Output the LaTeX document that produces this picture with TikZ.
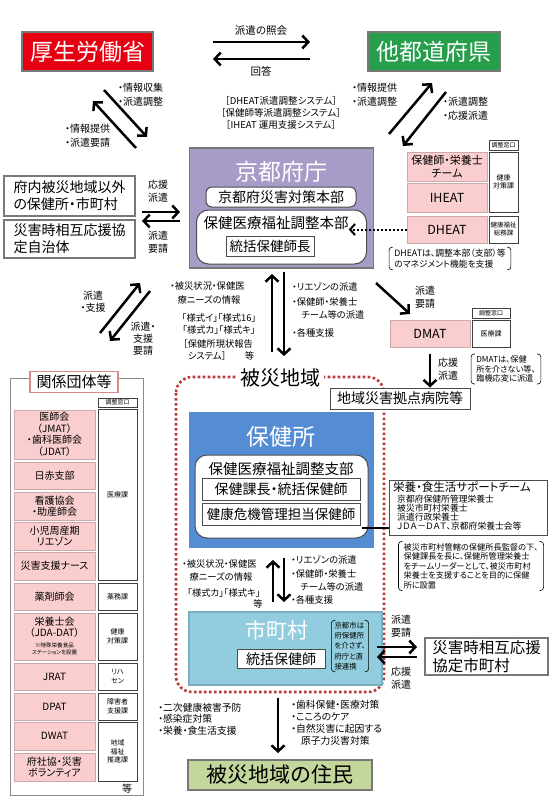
\documentclass[tikz,border=0pt]{standalone}
\usepackage{fontspec}
\setmainfont{Noto Sans CJK JP}[RawFeature=+palt]
\usetikzlibrary{arrows.meta}

\definecolor{mhlwred}{RGB}{230,0,18}
\definecolor{prefgreen}{RGB}{38,158,76}
\definecolor{kyotopurple}{RGB}{167,155,200}
\definecolor{pinkfill}{RGB}{250,206,206}
\definecolor{pinkline}{RGB}{205,170,170}
\definecolor{titlepink}{RGB}{215,140,140}
\definecolor{hcblue}{RGB}{84,141,212}
\definecolor{cityblue}{RGB}{145,205,222}
\definecolor{residentgreen}{RGB}{195,214,155}
\definecolor{dotred}{RGB}{185,60,60}
\definecolor{frame}{RGB}{120,120,120}

\newcommand{\fs}[2]{\fontsize{#1}{#2}\selectfont}
% brackets round a note
\newcommand{\parens}[1]{%
  \draw[line width=0.6pt, rounded corners=3pt] ([xshift=4pt]#1.north west) -- (#1.north west) -- (#1.south west) -- ([xshift=4pt]#1.south west);
  \draw[line width=0.6pt, rounded corners=3pt] ([xshift=-4pt]#1.north east) -- (#1.north east) -- (#1.south east) -- ([xshift=-4pt]#1.south east);}

\begin{document}
\begin{tikzpicture}[x=1pt, y=-1pt,
  sz/.style 2 args={minimum width=#1pt, minimum height=#2pt},
  bigbox/.style={draw=frame, line width=1.5pt, inner sep=0pt, text=white},
  wbox/.style={draw=black!70, line width=1pt, fill=white, inner sep=0pt, align=center},
  pinkbox/.style={draw=pinkline, line width=0.8pt, fill=pinkfill, inner sep=0pt, align=center, font=\fs{10}{11.5}},
  deskbox/.style={draw=black!75, line width=1pt, fill=white, inner sep=0pt, align=center, font=\fs{7}{8.5}},
  lbl/.style={inner sep=0pt, font=\fs{10}{14}},
  note/.style={inner xsep=5pt, inner ysep=1.5pt, align=left},
  arr/.style={line width=2.5pt, -{Straight Barb[length=6pt,width=13pt]}},
  dotline/.style={draw=dotred, line width=2.6pt, dash pattern=on 2.6pt off 2.4pt, rounded corners=16pt},
]
\useasboundingbox (0,0) rectangle (554,800);

% 上段
\node[bigbox, fill=mhlwred, sz={131}{39}, font=\fs{23}{26}] (mhlw) at (87.5,51.5) {厚生労働省};
\node[bigbox, fill=prefgreen, sz={132}{39}, font=\fs{23}{26}] (other) at (434,51.5) {他都道府県};
\coordinate (t1a) at (213,42); \coordinate (t1b) at (310,42);
\coordinate (t2a) at (310,59); \coordinate (t2b) at (213,59);
\draw[arr] (t1a) -- (t1b);
\draw[arr] (t2a) -- (t2b);
\node[lbl, font=\fs{10.5}{12}] (inq) at (261,31) {派遣の照会};
\node[lbl, font=\fs{10.5}{12}] (ans) at (261,71) {回答};

% 厚労省 <-> 府庁
\coordinate (d1a) at (104,90); \coordinate (d1b) at (147,137);
\coordinate (d2a) at (136,148); \coordinate (d2b) at (93,101);
\draw[arr] (d1a) -- (d1b);
\draw[arr] (d2a) -- (d2b);
\node[lbl, anchor=north west, align=left] (l1) at (118,83) {・情報収集\\・派遣調整};
\node[lbl, anchor=north west, align=left] (l2) at (65,124) {・情報提供\\・派遣要請};

% 他都道府県 <-> 府庁
\coordinate (d3a) at (389,134); \coordinate (d3b) at (432,83);
\coordinate (d4a) at (446,92); \coordinate (d4b) at (403,146);
\draw[arr] (d3a) -- (d3b);
\draw[arr] (d4a) -- (d4b);
\node[lbl, anchor=north west, align=left] (r1) at (352,83) {・情報提供\\・派遣調整};
\node[lbl, anchor=north west, align=left] (r2) at (443,97) {・派遣調整\\・応援派遣};

\node[lbl, font=\fs{9.5}{12}, align=center] (sys) at (281,113) {［DHEAT派遣調整システム］\\［保健師等派遣調整システム］\\［IHEAT 運用支援システム］};

% 京都府庁
\node[bigbox, fill=kyotopurple, sz={184}{120}] (kyoto) at (281.5,208) {};
\node[lbl, text=white, font=\fs{23}{26}] (kyototitle) at (281,172) {京都府庁};
\node[wbox, rounded corners=6pt, sz={150}{20}, font=\fs{14}{16}] (hq) at (281,197) {京都府災害対策本部};
\node[wbox, rounded corners=12pt, sz={170}{54}] (honbu) at (281.5,237) {};
\node[lbl, font=\fs{14.5}{16}] (honbutxt) at (276,223) {保健医療福祉調整本部};
\node[wbox, sz={88}{20}, font=\fs{13.5}{16}] (chief) at (270,246) {統括保健師長};

% 派遣チーム
\node[deskbox, sz={29}{10}, font=\fs{6}{7}] (desk1) at (503.5,145) {調整窓口};
\node[pinkbox, sz={80}{29}, font=\fs{11}{13}] (team) at (447,166.5) {保健師・栄養士\\チーム};
\node[pinkbox, sz={80}{29}, font=\fs{12.5}{14}] (iheat) at (447,197.5) {IHEAT};
\node[deskbox, sz={29}{60}] (kenko1) at (503.5,182) {健康\\対策課};
\node[pinkbox, sz={80}{27}, font=\fs{12.5}{14}] (dheat) at (447,229.5) {DHEAT};
\node[deskbox, sz={29}{27}, font=\fs{6.5}{8}] (somu) at (503.5,229.5) {健康福祉\\総務課};
\node[note, font=\fs{8.8}{11}] (dheatnote) at (450,258.5) {DHEATは、調整本部（支部）等\\のマネジメント機能を支援};
\parens{dheatnote}
\draw[line width=2pt, dash pattern=on 2pt off 2pt, -{Straight Barb[length=5pt,width=11pt]}] (dheat.west) -- (dheat.west -| honbutxt.east);

% 府内の自治体
\node[bigbox, fill=white, text=black, sz={131}{40}, font=\fs{14}{17}, align=left] (outside) at (69.5,196) {府内被災地域以外\\の保健所・市町村};
\node[bigbox, fill=white, text=black, sz={131}{38}, font=\fs{14}{17}, align=left] (mutual) at (69.5,239) {災害時相互応援協\\定自治体};
\coordinate (s1a) at (142,212); \coordinate (s1b) at (180,212);
\coordinate (s2a) at (180,221); \coordinate (s2b) at (142,221);
\draw[arr] (s1a) -- (s1b);
\draw[arr] (s2a) -- (s2b);
\node[lbl, align=center, font=\fs{10}{13}] (s1lbl) at (158,191) {応援\\派遣};
\node[lbl, align=center, font=\fs{10}{13}] (s2lbl) at (158,242) {派遣\\要請};

% 府庁 <-> 被災地域
\coordinate (m1a) at (272,352); \coordinate (m1b) at (272,274);
\coordinate (m2a) at (284,272); \coordinate (m2b) at (284,356);
\draw[arr] (m1a) -- (m1b);
\draw[arr] (m2a) -- (m2b);
\node[lbl, anchor=north west, align=left, font=\fs{9.3}{14}] (info1) at (170,281) {・被災状況・保健医\\\hspace{0.8em}療ニーズの情報};
\node[lbl, align=center, font=\fs{9.3}{12}] (forms1) at (219,324) {「様式イ」「様式16」\\「様式カ」「様式キ」};
\node[lbl, anchor=north west, align=left, font=\fs{9.3}{12}] (report) at (183,339) {［保健所現状報告\\\hspace{0.5em}システム］\hspace{2em}等};
\node[lbl, anchor=west, font=\fs{9.3}{12}] (liaison1) at (292,287) {・リエゾンの派遣};
\node[lbl, anchor=north west, align=left, font=\fs{9.3}{13}] (teams1) at (292,297) {・保健師・栄養士\\\hspace{1em}チーム等の派遣};
\node[lbl, anchor=west, font=\fs{9.3}{12}] (help1) at (292,333) {・各種支援};

% 被災地域
\draw[dotline] (176,377) rectangle (384,692);
\node[lbl, fill=white, inner xsep=4pt, font=\fs{20}{22}] (area) at (280,378) {被災地域};
\node[wbox, sz={140}{21}, font=\fs{14}{16}] (hosp) at (400,398.5) {地域災害拠点病院等};

% DMAT
\coordinate (q1a) at (376,283); \coordinate (q1b) at (410,314);
\draw[arr] (q1a) -- (q1b);
\node[lbl, align=center, font=\fs{10}{13}] (dmatreq) at (425,297) {派遣\\要請};
\node[pinkbox, sz={80}{27}, font=\fs{12.5}{14}] (dmat) at (430,333.5) {DMAT};
\node[deskbox, sz={38}{10}, font=\fs{6}{7}] (desk2) at (491,313) {調整窓口};
\node[deskbox, sz={38}{27}] (iryo1) at (491,333.5) {医療課};
\coordinate (h1a) at (430,354);
\draw[arr] (h1a) -- (h1a |- hosp.north);
\node[lbl, align=center, font=\fs{10}{13}] (dmatsend) at (448,369) {応援\\派遣};
\node[note, font=\fs{8.2}{9.5}] (dmatnote) at (506,369) {DMATは、保健\\所を介さない等、\\臨機応変に派遣};
\parens{dmatnote}

% 関係団体等
\coordinate (g1a) at (100,333); \coordinate (g1b) at (140,283);
\coordinate (g2a) at (150,291); \coordinate (g2b) at (110,341);
\draw[arr] (g1a) -- (g1b);
\draw[arr] (g2a) -- (g2b);
\node[lbl, align=center, font=\fs{10}{12}] (g1lbl) at (93,302) {派遣\\・支援};
\node[lbl, align=center, font=\fs{10}{12}] (g2lbl) at (143,339) {派遣・\\支援\\要請};
\node[draw=black!45, line width=0.8pt, sz={133}{417}] (groups) at (76.5,586.5) {};
\node[draw=titlepink, line width=1.5pt, fill=white, sz={88}{20}, font=\fs{15}{17}] (groupstitle) at (74,382) {関係団体等};
\node[deskbox, sz={39}{9}, font=\fs{6}{7}] (desk3) at (117.5,402.5) {調整窓口};
\node[pinkbox, sz={81}{49}] (org1) at (54.5,434.5) {医師会\\（JMAT）\\・歯科医師会\\（JDAT）};
\node[pinkbox, sz={81}{27}] (org2) at (54.5,475.5) {日赤支部};
\node[pinkbox, sz={81}{28}] (org3) at (54.5,506) {看護協会\\・助産師会};
\node[pinkbox, sz={81}{28}] (org4) at (54.5,536) {小児周産期\\リエゾン};
\node[pinkbox, sz={81}{28}] (org5) at (54.5,566) {災害支援ナース};
\node[deskbox, sz={39}{171}] (iryo2) at (117.5,494.5) {医療課};
\node[pinkbox, sz={81}{27}] (org6) at (54.5,596.5) {薬剤師会};
\node[deskbox, sz={39}{27}] (yakumu) at (117.5,596.5) {薬務課};
\node[pinkbox, sz={81}{47}] (org7) at (54.5,636.5) {};
\node[lbl, align=center, font=\fs{10}{11}] (org7a) at (54.5,627.5) {栄養士会\\（JDA-DAT）};
\node[lbl, align=center, font=\fs{5.5}{6.5}] (org7b) at (54.5,649) {※特殊栄養食品\\ステーションを設置};
\node[deskbox, sz={39}{47}] (kenko2) at (117.5,636.5) {健康\\対策課};
\node[pinkbox, sz={81}{27}] (org8) at (54.5,676.5) {JRAT};
\node[deskbox, sz={39}{27}] (reha) at (117.5,676.5) {リハ\\セン};
\node[pinkbox, sz={81}{27}] (org9) at (54.5,706.5) {DPAT};
\node[deskbox, sz={39}{27}] (shogai) at (117.5,706.5) {障害者\\支援課};
\node[pinkbox, sz={81}{28}] (org10) at (54.5,736) {DWAT};
\node[pinkbox, sz={81}{28}] (org11) at (54.5,767) {府社協・災害\\ボランティア};
\node[deskbox, sz={39}{59}] (fukushi) at (117.5,751.5) {地域\\福祉\\推進課};
\node[lbl] (etc) at (127,789) {等};

% 保健所
\node[bigbox, draw=hcblue, fill=hcblue, sz={183}{134}] (hc) at (281.5,480) {};
\node[lbl, text=white, font=\fs{23}{26}] (hctitle) at (281,437) {保健所};
\node[wbox, rounded corners=12pt, sz={173}{83}] (branch) at (281.5,496.5) {};
\node[lbl, font=\fs{14.5}{16}] (branchtxt) at (281,469) {保健医療福祉調整支部};
\node[wbox, sz={158}{22}, font=\fs{14}{16}] (hcchief) at (281,489) {保健課長・統括保健師};
\node[wbox, sz={158}{22}, font=\fs{13.5}{16}] (crisis) at (281,514) {健康危機管理担当保健師};

% 栄養・食生活サポートチーム
\node[wbox, sz={158}{55}] (nut) at (468,507.5) {};
\node[lbl, anchor=west, font=\fs{11.5}{13}] (nuttitle) at (393,487) {栄養・食生活サポートチーム};
\node[lbl, anchor=north west, align=left, font=\fs{8.8}{9}] (nutlist) at (397,495) {京都府保健所管理栄養士\\被災市町村栄養士\\派遣行政栄養士\\ＪＤＡ－ＤＡＴ、京都府栄養士会等};
\coordinate (lk) at (362,528);
\draw[line width=1.8pt] (lk) -- (lk -| nut.west);
\node[note, font=\fs{8.2}{9.5}] (nutnote) at (471,566) {被災市町村管轄の保健所長監督の下、\\保健課長を長に、保健所管理栄養士\\をチームリーダーとして、被災市町村\\栄養士を支援することを目的に保健\\所に設置};
\parens{nutnote}

% 保健所 <-> 市町村
\coordinate (m3a) at (273,602); \coordinate (m3b) at (273,560);
\coordinate (m4a) at (284,558); \coordinate (m4b) at (284,602);
\draw[arr] (m3a) -- (m3b);
\draw[arr] (m4a) -- (m4b);
\node[lbl, anchor=north west, align=left, font=\fs{9.3}{13}] (info2) at (182,559) {・被災状況・保健医\\\hspace{0.8em}療ニーズの情報};
\node[lbl, font=\fs{9.3}{12}] (forms2) at (224,593) {「様式カ」「様式キ」};
\node[lbl, font=\fs{9.3}{12}] (etc2) at (258,604) {等};
\node[lbl, anchor=west, font=\fs{9.3}{12}] (liaison2) at (291,560) {・リエゾンの派遣};
\node[lbl, anchor=north west, align=left, font=\fs{9.3}{13}] (teams2) at (291,569) {・保健師・栄養士\\\hspace{1em}チーム等の派遣};
\node[lbl, anchor=west, font=\fs{9.3}{12}] (help2) at (291,600) {・各種支援};

% 市町村
\node[bigbox, draw=cityblue!85!black, fill=cityblue, sz={193}{73}] (city) at (285.5,648.5) {};
\node[lbl, text=white, font=\fs{21}{24}] (citytitle) at (277,630) {市町村};
\node[wbox, sz={88}{19}, font=\fs{14}{16}] (citychief) at (281,659) {統括保健師};
\node[note, inner xsep=3pt, font=\fs{7.4}{10.3}] (kyotocity) at (350,646) {京都市は\\府保健所\\を介さず、\\府庁と直\\接連携};
\parens{kyotocity}
\coordinate (c1a) at (377,647); \coordinate (c1b) at (417,647);
\coordinate (c2a) at (417,657); \coordinate (c2b) at (377,657);
\draw[arr] (c1a) -- (c1b);
\draw[arr] (c2a) -- (c2b);
\node[lbl, align=center, font=\fs{10}{13}] (c1lbl) at (401,626) {派遣\\要請};
\node[lbl, align=center, font=\fs{10}{13}] (c2lbl) at (401,678) {応援\\派遣};
\node[bigbox, fill=white, text=black, sz={123}{37}, font=\fs{15.5}{18}, align=left] (citymutual) at (486.5,656.5) {災害時相互応援\\協定市町村};

% 住民
\coordinate (b1a) at (278,698); \coordinate (b1b) at (278,753);
\draw[arr] (b1a) -- (b1b);
\node[lbl, anchor=north west, align=left, font=\fs{9.8}{11.5}] (care1) at (158,703) {・二次健康被害予防\\・感染症対策\\・栄養・食生活支援};
\node[lbl, anchor=north west, align=left, font=\fs{9.8}{12}] (care2) at (291,700) {・歯科保健・医療対策\\・こころのケア\\・自然災害に起因する\\\hspace{1em}原子力災害対策};
\node[bigbox, fill=residentgreen, text=black, sz={184}{30}, font=\fs{21}{24}] (residents) at (280,775) {被災地域の住民};
\end{tikzpicture}
\end{document}
